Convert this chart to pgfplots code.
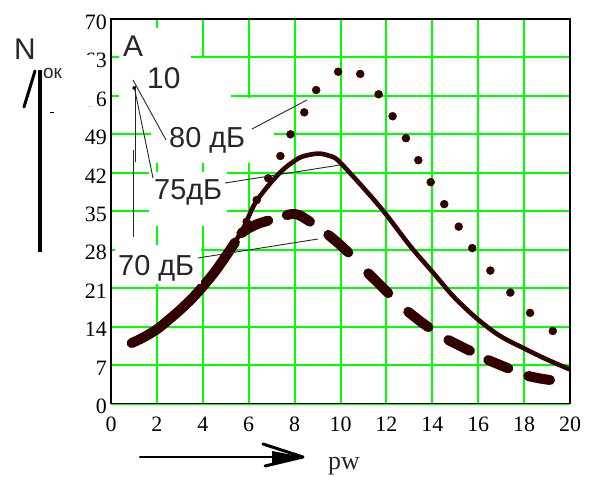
\documentclass[border=0pt]{standalone}
\usepackage{fontspec}
\setmainfont{Liberation Serif}
\newfontfamily\arial{Liberation Sans}
\usepackage{pgfplots}
\pgfplotsset{compat=1.18}
\definecolor{curve}{RGB}{51,0,0}
\definecolor{gridgreen}{RGB}{0,255,0}

\begin{document}
\begin{tikzpicture}
\begin{axis}[
  at={(0,0)}, anchor=south west,
  scale only axis, width=459bp, height=384.5bp,
  xmin=0, xmax=20, ymin=0, ymax=70,
  xtick={0,2,...,20}, ytick={0,7,...,70},
  grid=major,
  major grid style={gridgreen, line width=2bp},
  axis line style={black, line width=1.4bp},
  major tick length=0pt,
  tick label style={font=\fontsize{22}{22}\selectfont, inner sep=0pt},
  /pgf/number format/assume math mode=true,
  xticklabel style={yshift=-13.5bp},
  yticklabel style={xshift=-4bp, yshift=-3bp},
  unbounded coords=jump,
]
% 80 dB (dotted)
\addplot[only marks, mark=*, mark size=4bp, mark options={fill=curve, draw=curve}]
coordinates {
(0.9,11.0) (1.55,12.4) (2.3,14.4) (3.05,17.2) (3.8,20.5) (4.5,24.0) (5.2,28.3)
(5.91,33.1) (6.35,37.05) (6.85,41.0) (7.38,45.06) (7.82,49.0) (8.42,53.0)
(8.94,57.07) (9.90,60.4) (10.86,60.0) (11.66,56.3) (12.27,52.3) (12.85,48.3)
(13.39,44.3) (13.93,40.3) (14.52,36.3) (15.15,32.2) (15.74,28.3) (16.53,24.2)
(17.40,20.2) (18.26,16.5) (19.25,13.2)
};
% 75 dB (solid)
\addplot[curve, line width=4.6bp, smooth, tension=0.5, line cap=round]
coordinates {
(0.9,11.0) (1.4,12.0) (2.0,13.5) (2.5,15.2) (3.0,17.0) (3.5,19.0) (3.9,20.8)
(4.3,22.8) (4.6,24.4) (5.0,26.8) (5.4,29.4) (5.8,32.2) (6.27,36.4) (6.9,39.9)
(7.4,42.2) (7.8,43.6) (8.3,44.9) (9.0,45.5) (9.5,45.1) (9.98,43.9)
(11.72,35.8) (13.03,28.7) (14.04,23.8) (14.92,19.5)
(15.93,15.5) (16.95,12.3) (18.11,9.8)
(19.0,8.0) (20,6.2)
};
% 70 dB (dashed)
\addplot[curve, line width=10bp, smooth, tension=0.5, line cap=round, line join=round]
coordinates {
(0.9,11.0) (1.4,12.0) (2.0,13.5) (2.5,15.2) (3.0,17.0) (3.5,19.0) (3.9,20.8)
(4.3,22.8) (4.6,24.4) (5.0,26.8) (5.4,29.3)
(5.55,nan)
(5.68,31.0) (6.0,31.9) (6.4,32.7) (6.85,33.3)
(7.2,nan)
(7.66,34.3) (7.9,34.5) (8.2,34.3) (8.67,33.1)
(9.0,nan)
(9.47,30.7) (9.9,29.2) (10.34,27.5)
(10.8,nan)
(11.21,23.7) (11.65,21.9) (12.08,20.1)
(12.5,nan)
(12.95,16.7) (13.4,15.2) (13.83,13.9)
(14.2,nan)
(14.7,11.56) (15.2,10.5) (15.64,9.6)
(16.0,nan)
(16.44,7.9) (16.9,7.1) (17.31,6.4)
(17.7,nan)
(18.18,5.0) (18.7,4.55) (19.13,4.28)
};
\end{axis}

\begin{scope}[shift={(-111bp,403.5bp)}, x=1bp, y=-1bp]
  % white text regions hiding the grid
  \fill[white] (119,28) rectangle (191,100);
  \fill[white] (151,58) rectangle (231,163);
  \fill[white] (151,98) rectangle (274,163);
  \fill[white] (149,172) rectangle (227,226);
  \fill[white] (115,245) rectangle (201,284);
  \fill[white] (80,55.5) rectangle (96.5,106);
  % labels
  \begin{scope}[every node/.style={inner sep=0pt, anchor=base west, text=black!85}]
    \node[font=\arial\fontsize{30}{30}\selectfont] at (123,57) {A};
    \node[font=\arial\fontsize{30}{30}\selectfont] at (147,89) {10};
    \node[font=\arial\fontsize{29}{29}\selectfont] at (169,148) {80 дБ};
    \node[font=\arial\fontsize{29}{29}\selectfont] at (154,200) {75дБ};
    \node[font=\arial\fontsize{29}{29}\selectfont] at (118,276) {70 дБ};
    \node[font=\arial\fontsize{30}{30}\selectfont] at (14,60) {N};
    \node[font=\arial\fontsize{19}{19}\selectfont] at (43,79) {ок};
    \node[font=\fontsize{26}{26}\selectfont] at (328,470) {pw};
  \end{scope}
  % pointer lines
  \begin{scope}[line width=0.9bp, black!85]
    \draw (133,80) -- (166,140);
    \draw (134,86) -- (153,178);
    \draw (135,86) -- (135,162);
    \draw (133,150) -- (133,237);
    \draw (252,129) -- (307,100);
    \draw (225,183) -- (340,165);
    \draw (198,258) -- (318,239);
  \end{scope}
  \fill (134,88) circle (1.8);
  % axis arrows
  \draw[line width=4bp] (40.5,70) -- (40.5,252);
  \draw[line width=3bp, line cap=round] (35,71) -- (24,107);
  \draw[line width=1bp] (50,113) -- (54,113);
  \draw[line width=2.5bp, line cap=round] (140,457) -- (300,457);
  \draw[line width=3bp, line cap=round, line join=round] (263,444) -- (303,457) -- (265,466);
  \fill (272,451) -- (303,457) -- (272,463) -- cycle;
  \pgfresetboundingbox
  \path[use as bounding box] (0,0) rectangle (590,477);
\end{scope}
\end{tikzpicture}
\end{document}
